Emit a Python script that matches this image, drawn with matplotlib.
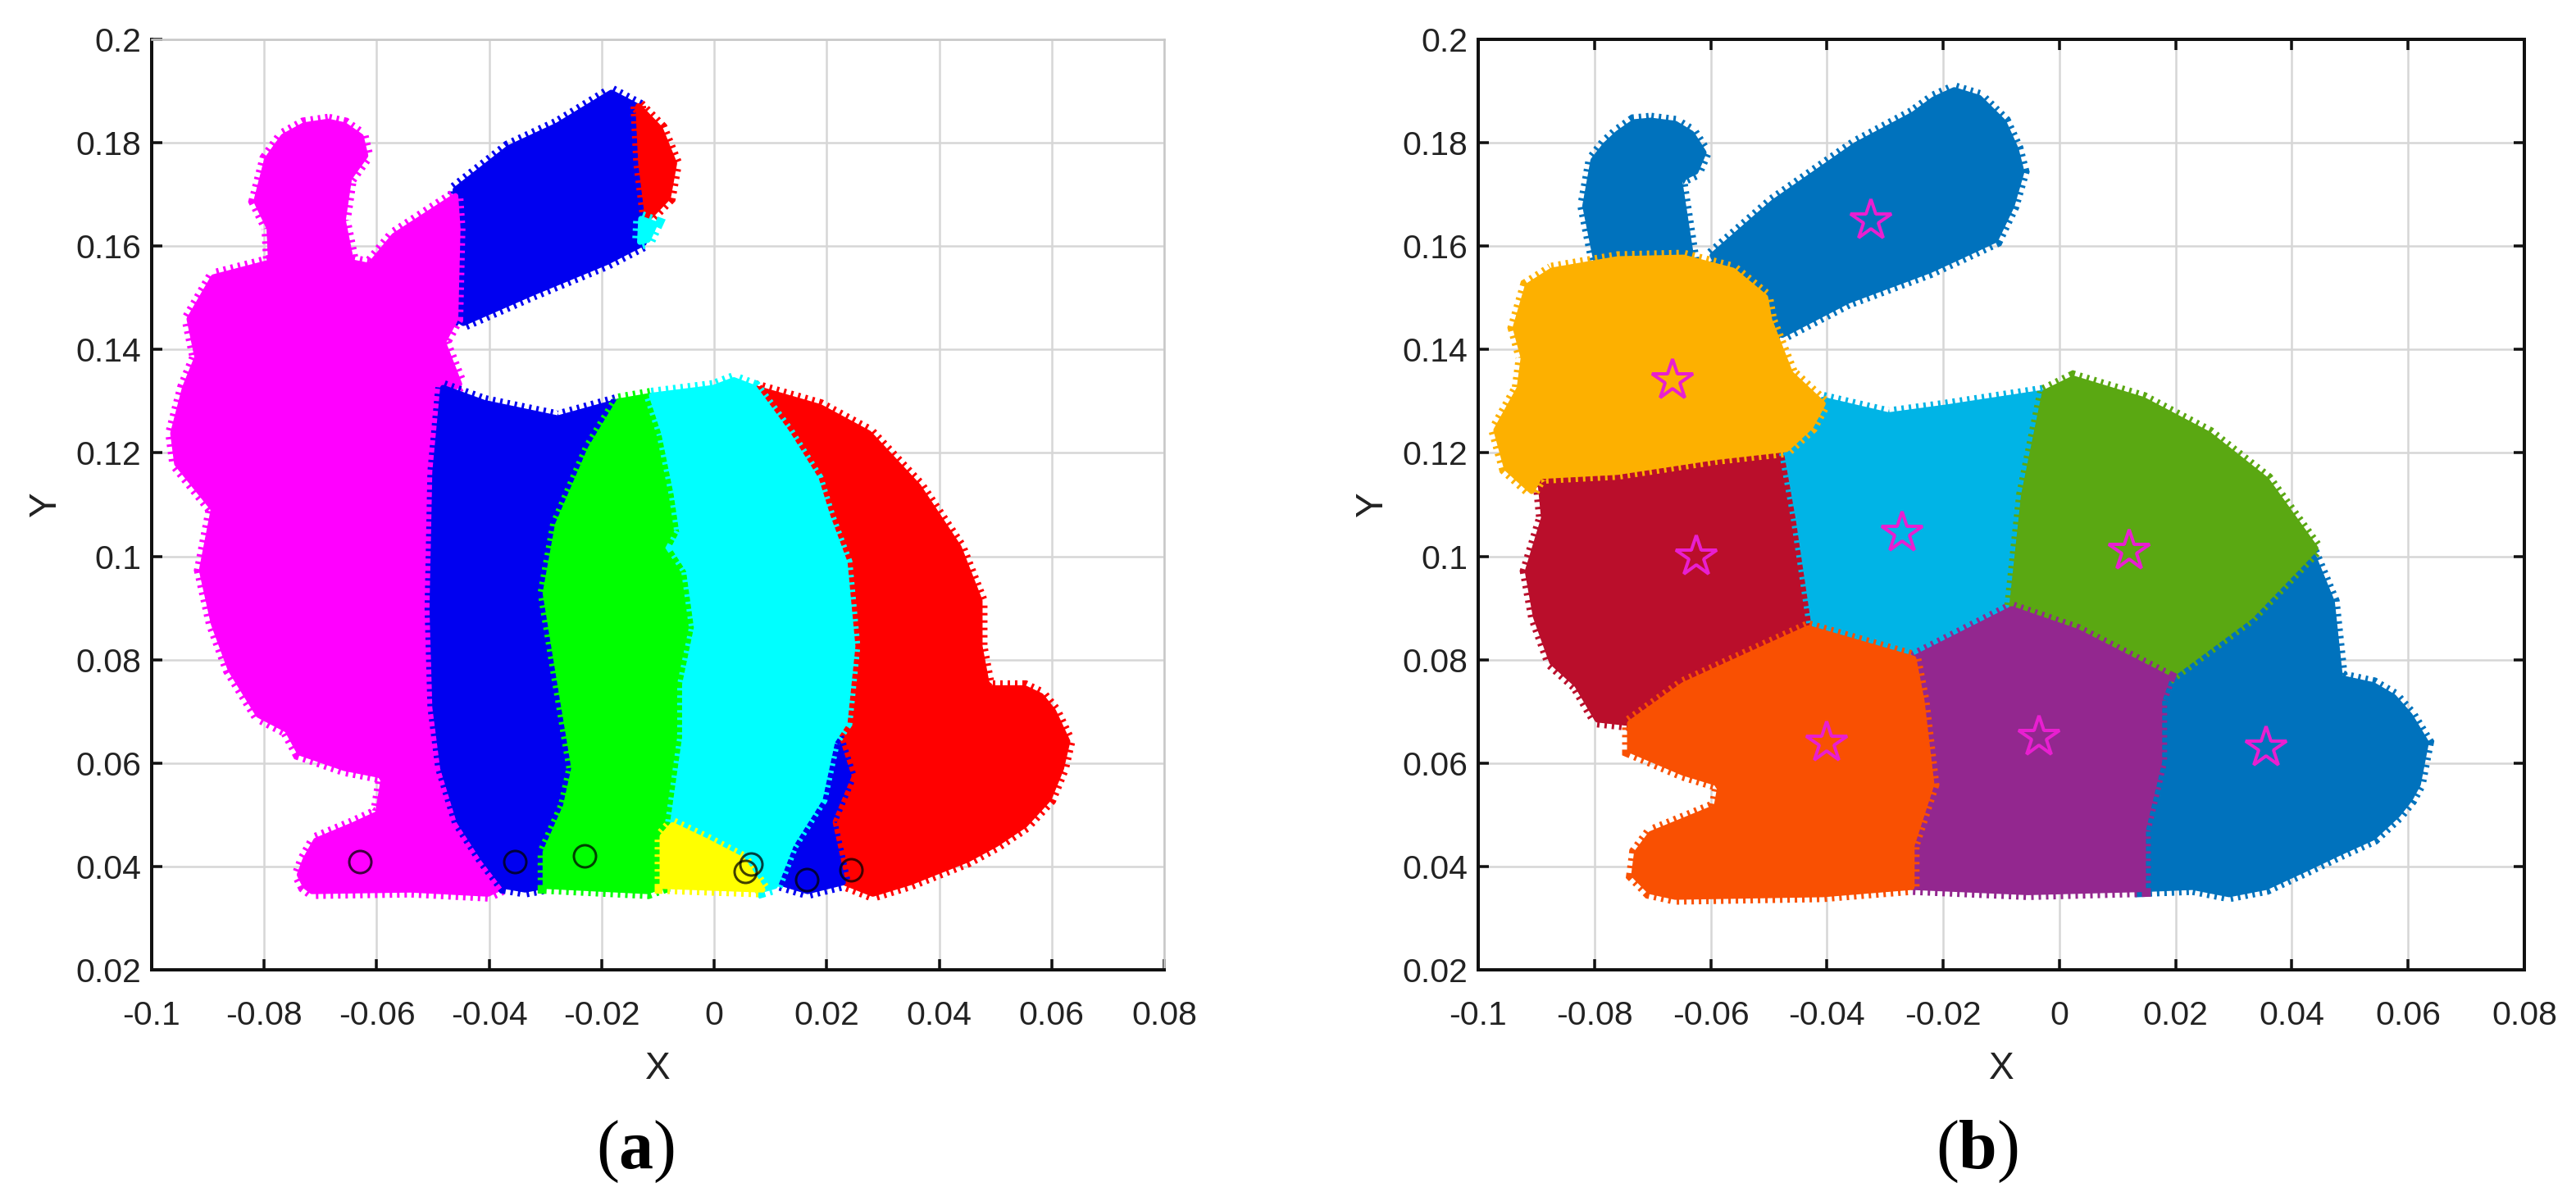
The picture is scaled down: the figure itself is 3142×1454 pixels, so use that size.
"""
plot.py - two clustered bunny point clouds, panels (a) and (b).
"""

import matplotlib
matplotlib.use("Agg")
import matplotlib.pyplot as plt
from matplotlib.patches import Polygon

# ── Axis values ───────────────────────────────────────────────────────────────
X_TICKS = [-0.1, -0.08, -0.06, -0.04, -0.02, 0, 0.02, 0.04, 0.06, 0.08]
X_LABELS = ["-0.1", "-0.08", "-0.06", "-0.04", "-0.02", "0", "0.02", "0.04", "0.06", "0.08"]
Y_TICKS = [0.02, 0.04, 0.06, 0.08, 0.1, 0.12, 0.14, 0.16, 0.18, 0.2]
Y_LABELS = ["0.02", "0.04", "0.06", "0.08", "0.1", "0.12", "0.14", "0.16", "0.18", "0.2"]

# ── Panel (a) cluster outlines ────────────────────────────────────────────────
A_MAGENTA = [
    (-.0686, .1841), (-.0657, .1834), (-.0628, .1812), (-.0620, .1775), (-.0649, .1731), (-.0660, .1650),
    (-.0645, .1569), (-.0613, .1562), (-.0569, .1620), (-.0460, .1697), (-.0456, .1635),
    (-.0460, .1459), (-.0482, .1414), (-.0453, .1333), (-.0482, .1311), (-.0496, .1164),
    (-.0501, .0899), (-.0496, .0708), (-.0482, .0590), (-.0453, .0487), (-.0409, .0413),
    (-.0373, .0362), (-.0402, .0347), (-.0540, .0355), (-.0715, .0352), (-.0727, .0362), (-.0737, .0384),
    (-.0727, .0413), (-.0708, .0450), (-.0642, .0480), (-.0598, .0502), (-.0587, .0575), (-.0657, .0590),
    (-.0737, .0620), (-.0759, .0664), (-.0810, .0693), (-.0860, .0781), (-.0890, .0870),
    (-.0911, .0973), (-.0890, .1091), (-.0955, .1179), (-.0962, .1238), (-.0941, .1326),
    (-.0919, .1385), (-.0933, .1459), (-.0890, .1540), (-.0788, .1569), (-.0791, .1635),
    (-.0814, .1687), (-.0795, .1768), (-.0766, .1812), (-.0729, .1834),
]
A_BLUE_EAR = [
    (-.0460, .1709), (-.0365, .1790), (-.0278, .1834), (-.0183, .1897), (-.0132, .1868),
    (-.0132, .1760), (-.0125, .1606), (-.0191, .1569), (-.0322, .1510), (-.0446, .1451),
    (-.0467, .1466), (-.0456, .1635),
]
A_RED_TIP = [
    (-.0135, .1871), (-.0096, .1827), (-.0071, .1760), (-.0082, .1694), (-.0118, .1653),
    (-.0130, .1760),
]
A_CYAN_TIP = [(-.0130, .1653), (-.0105, .1643), (-.0118, .1612), (-.0132, .1608)]
A_BLUE_BODY = [
    (-.0482, .1326), (-.0409, .1297), (-.0278, .1267), (-.0169, .1300), (-.0220, .1208),
    (-.0278, .1061), (-.0300, .0929), (-.0278, .0781), (-.0249, .0590), (-.0264, .0516),
    (-.0300, .0428), (-.0300, .0362), (-.0336, .0355), (-.0373, .0362), (-.0409, .0413),
    (-.0453, .0487), (-.0482, .0590), (-.0496, .0708), (-.0501, .0899), (-.0496, .1164),
]
A_GREEN = [
    (-.0169, .1300), (-.0111, .1311), (-.0089, .1238), (-.0067, .1120), (-.0057, .1046),
    (-.0071, .1017), (-.0045, .0973), (-.0031, .0862), (-.0052, .0752), (-.0052, .0649),
    (-.0074, .0480), (-.0092, .0458), (-.0092, .0362), (-.0118, .0352), (-.0300, .0362),
    (-.0300, .0428), (-.0264, .0516), (-.0249, .0590), (-.0278, .0781), (-.0300, .0929),
    (-.0278, .1061), (-.0220, .1208),
]
A_CYAN = [
    (-.0111, .1311), (-.0001, .1326), (.0035, .1341), (.0071, .1326), (.0130, .1238),
    (.0181, .1149), (.0202, .1076), (.0232, .0988), (.0246, .0826), (.0232, .0678),
    (.0210, .0642), (.0188, .0531), (.0137, .0443), (.0108, .0362), (.0086, .0355),
    (.0050, .0413), (-.0016, .0450), (-.0074, .0480), (-.0052, .0649), (-.0052, .0752),
    (-.0031, .0862), (-.0045, .0973), (-.0071, .1017), (-.0057, .1046), (-.0067, .1120),
    (-.0089, .1238),
]
A_YELLOW = [
    (-.0074, .0480), (-.0016, .0450), (.0050, .0413), (.0086, .0355), (-.0092, .0362),
    (-.0092, .0458),
]
A_BLUE_SMALL = [
    (.0217, .0649), (.0239, .0575), (.0205, .0487), (.0229, .0369), (.0166, .0352),
    (.0115, .0369), (.0137, .0443), (.0188, .0531),
]
A_RED_BODY = [
    (.0071, .1326), (.0188, .1289), (.0275, .1238), (.0363, .1135), (.0435, .1017),
    (.0472, .0914), (.0472, .0826), (.0486, .0745), (.0552, .0745), (.0581, .0730), (.0603, .0700),
    (.0628, .0642), (.0617, .0590), (.0595, .0531), (.0552, .0480), (.0501, .0443), (.0450, .0413), (.0348, .0369),
    (.0282, .0347), (.0231, .0369), (.0205, .0487), (.0239, .0575), (.0217, .0649),
    (.0232, .0678), (.0246, .0826), (.0232, .0988), (.0202, .1076), (.0181, .1149),
    (.0130, .1238),
]
A_CIRCLES_X = [-.063, -.0355, -.023, .0065, .0055, .0165, .0243]
A_CIRCLES_Y = [.041, .041, .042, .0405, .039, .0375, .0393]

# ── Panel (b) cluster outlines ────────────────────────────────────────────────
B_EAR_SMALL = [
    (-.0703, .1843), (-.0661, .1837), (-.0633, .1818), (-.0612, .1781), (-.0626, .1744), (-.0654, .1729), (-.0633, .1575),
    (-.0795, .1560), (-.0816, .1678), (-.0802, .1766), (-.0781, .1796), (-.0760, .1818), (-.0732, .1840),
]
B_EAR_BIG = [
    (-.0597, .1582), (-.0492, .1685), (-.0350, .1796), (-.0251, .1855), (-.0216, .1884), (-.0181, .1902),
    (-.0138, .1887), (-.0096, .1840), (-.0075, .1788), (-.0065, .1744), (-.0082, .1678), (-.0110, .1612), (-.0167, .1582), (-.0223, .1553),
    (-.0364, .1494), (-.0477, .1428), (-.0534, .1457),
]
B_HEAD = [
    (-.0873, .1553), (-.0760, .1575), (-.0647, .1578), (-.0562, .1553), (-.0506, .1501),
    (-.0499, .1457), (-.0463, .1354), (-.0407, .1295), (-.0428, .1251), (-.0470, .1207),
    (-.0590, .1192), (-.0760, .1163), (-.0894, .1155), (-.0908, .1126), (-.0951, .1170),
    (-.0969, .1244), (-.0929, .1325), (-.0922, .1384), (-.0936, .1442), (-.0915, .1523),
]
B_CHEST = [
    (-.0894, .1155), (-.0760, .1163), (-.0590, .1192), (-.0470, .1207), (-.0449, .1074),
    (-.0421, .0883), (-.0432, .0861), (-.0534, .0809), (-.0647, .0751), (-.0739, .0677),
    (-.0795, .0684), (-.0830, .0751), (-.0873, .0795), (-.0901, .0883), (-.0915, .0971),
    (-.0887, .1074),
]
B_NECK = [
    (-.0407, .1303), (-.0294, .1273), (-.0195, .1288), (-.0025, .1317), (-.0061, .1119),
    (-.0082, .0898), (-.0251, .0802), (-.0421, .0861), (-.0449, .1074), (-.0470, .1207),
]
B_BACK = [
    (-.0025, .1317), (.0024, .1344), (.0144, .1303), (.0257, .1236), (.0356, .1148),
    (.0441, .1015), (.0328, .0883), (.0186, .0765), (.0031, .0854), (-.0082, .0898),
    (-.0061, .1119),
]
B_TAIL = [
    (.0434, .1008), (.0469, .0912), (.0483, .0765), (.0540, .0751), (.0575, .0728), (.0603, .0692),
    (.0631, .0640), (.0617, .0559), (.0603, .0530), (.0582, .0500), (.0540, .0456), (.0483, .0427), (.0427, .0397), (.0356, .0360), (.0292, .0346), (.0229, .0360),
    (.0144, .0356), (.0144, .0471), (.0172, .0603), (.0172, .0721), (.0186, .0765),
    (.0328, .0883),
]
B_BELLY = [
    (-.0251, .0802), (-.0082, .0898), (.0031, .0854), (.0186, .0765), (.0172, .0721),
    (.0172, .0603), (.0144, .0471), (.0144, .0356), (-.0054, .0350), (-.0254, .0360),
    (-.0254, .0441), (-.0220, .0559), (-.0237, .0721),
]
B_FOOT = [
    (-.0432, .0861), (-.0251, .0802), (-.0237, .0721), (-.0220, .0559), (-.0254, .0441),
    (-.0254, .0360), (-.0407, .0346), (-.0661, .0341), (-.0705, .0352), (-.0732, .0383), (-.0727, .0427), (-.0703, .0463),
    (-.0590, .0515), (-.0583, .0559), (-.0647, .0581), (-.0739, .0625), (-.0739, .0677),
    (-.0647, .0751), (-.0534, .0809),
]
B_STARS_X = [-.0325, -.0665, -.0625, -.027, .012, -.0035, .0355, -.040]
B_STARS_Y = [.165, .134, .100, .1045, .101, .065, .063, .064]

# ── Config ────────────────────────────────────────────────────────────────────
DPI = 100
FIG_W, FIG_H = 3142, 1454
TICK_COLOR = "#222222"
GRID_COLOR = "#d6d6d6"
STAR_COLOR = "#e81fd0"

plt.rcParams["font.family"] = ["Liberation Sans", "DejaVu Sans"]
plt.rcParams["lines.scale_dashes"] = False
plt.rcParams["mathtext.fontset"] = "custom"
plt.rcParams["mathtext.rm"] = "Liberation Serif"
plt.rcParams["mathtext.bf"] = "Liberation Serif:bold"


def px(n):
    """Pixels to points at the figure dpi."""
    return n * 72 / DPI


def make_axes(fig, left, right, top=48, bottom=1183):
    return fig.add_axes([left / FIG_W, 1 - bottom / FIG_H,
                         (right - left) / FIG_W, (bottom - top) / FIG_H])


def style_axes(ax, soft_frame):
    ax.set_xlim(-0.1, 0.08)
    ax.set_ylim(0.02, 0.2)
    ax.set_xticks(X_TICKS, X_LABELS)
    ax.set_yticks(Y_TICKS, Y_LABELS)
    ax.set_axisbelow(True)
    ax.grid(True, color=GRID_COLOR, linewidth=px(2.5))
    ax.tick_params(direction="in", length=px(13), width=px(3.5), color="#111111",
                   labelsize=px(41), labelcolor=TICK_COLOR,
                   top=not soft_frame, right=not soft_frame)
    ax.tick_params(axis="x", pad=px(37))
    ax.tick_params(axis="y", pad=px(13))
    for side, spine in ax.spines.items():
        spine.set_linewidth(px(4))
        spine.set_color("#111111")
        if soft_frame and side in ("top", "right"):
            spine.set_color("#c8c8c8")
            spine.set_linewidth(px(2.5))
    ax.set_xlabel("X", fontsize=px(46), color=TICK_COLOR, labelpad=px(24))
    ax.set_ylabel("Y", fontsize=px(46), color=TICK_COLOR, labelpad=px(14))


def draw_region(ax, outline, color):
    # solid fill with a round-joined rim, then a comb-like dashed edge for the
    # jagged point-cloud teeth
    ax.add_patch(Polygon(outline, closed=True, facecolor=color, edgecolor=color,
                         linewidth=px(7), joinstyle="round", zorder=2))
    ax.add_patch(Polygon(outline, closed=True, fill=False, edgecolor=color,
                         linewidth=px(19), linestyle=(0, (px(3), px(6))),
                         zorder=2))


# ── Plot ──────────────────────────────────────────────────────────────────────
fig = plt.figure(figsize=(FIG_W / DPI, FIG_H / DPI), dpi=DPI)

ax_a = make_axes(fig, 185, 1420)
style_axes(ax_a, soft_frame=True)
for outline, color in [
    (A_BLUE_EAR,   "#0000f0"),
    (A_RED_TIP,    "#ff0000"),
    (A_CYAN_TIP,   "#00ffff"),
    (A_MAGENTA,    "#ff00ff"),
    (A_BLUE_BODY,  "#0000f0"),
    (A_RED_BODY,   "#ff0000"),
    (A_BLUE_SMALL, "#0000f0"),
    (A_GREEN,      "#00ff00"),
    (A_CYAN,       "#00ffff"),
    (A_YELLOW,     "#ffff00"),
]:
    draw_region(ax_a, outline, color)
ax_a.plot(A_CIRCLES_X, A_CIRCLES_Y, linestyle="none", marker="o", markersize=px(27),
          markerfacecolor="none", markeredgecolor=(0, 0, 0, 0.75),
          markeredgewidth=px(3), zorder=3)

ax_b = make_axes(fig, 1803, 3079)
style_axes(ax_b, soft_frame=False)
for outline, color in [
    (B_EAR_SMALL, "#0072bd"),
    (B_EAR_BIG,   "#0072bd"),
    (B_CHEST,     "#ba0e2b"),
    (B_NECK,      "#00b4e6"),
    (B_HEAD,      "#fdb000"),
    (B_TAIL,      "#0072bd"),
    (B_BACK,      "#5aa812"),
    (B_BELLY,     "#93278f"),
    (B_FOOT,      "#f95002"),
]:
    draw_region(ax_b, outline, color)
ax_b.plot(B_STARS_X, B_STARS_Y, linestyle="none", marker="*", markersize=px(52),
          markerfacecolor="none", markeredgecolor=STAR_COLOR,
          markeredgewidth=px(4), zorder=3)

for x_px, tag in [(775, r"($\mathbf{a}$)"), (2411, r"($\mathbf{b}$)")]:
    fig.text(x_px / FIG_W, 1 - 1405 / FIG_H, tag, ha="center", va="center",
             fontsize=px(84), family="Liberation Serif", color="black")

fig.savefig("out.png", dpi=DPI, facecolor="white")
